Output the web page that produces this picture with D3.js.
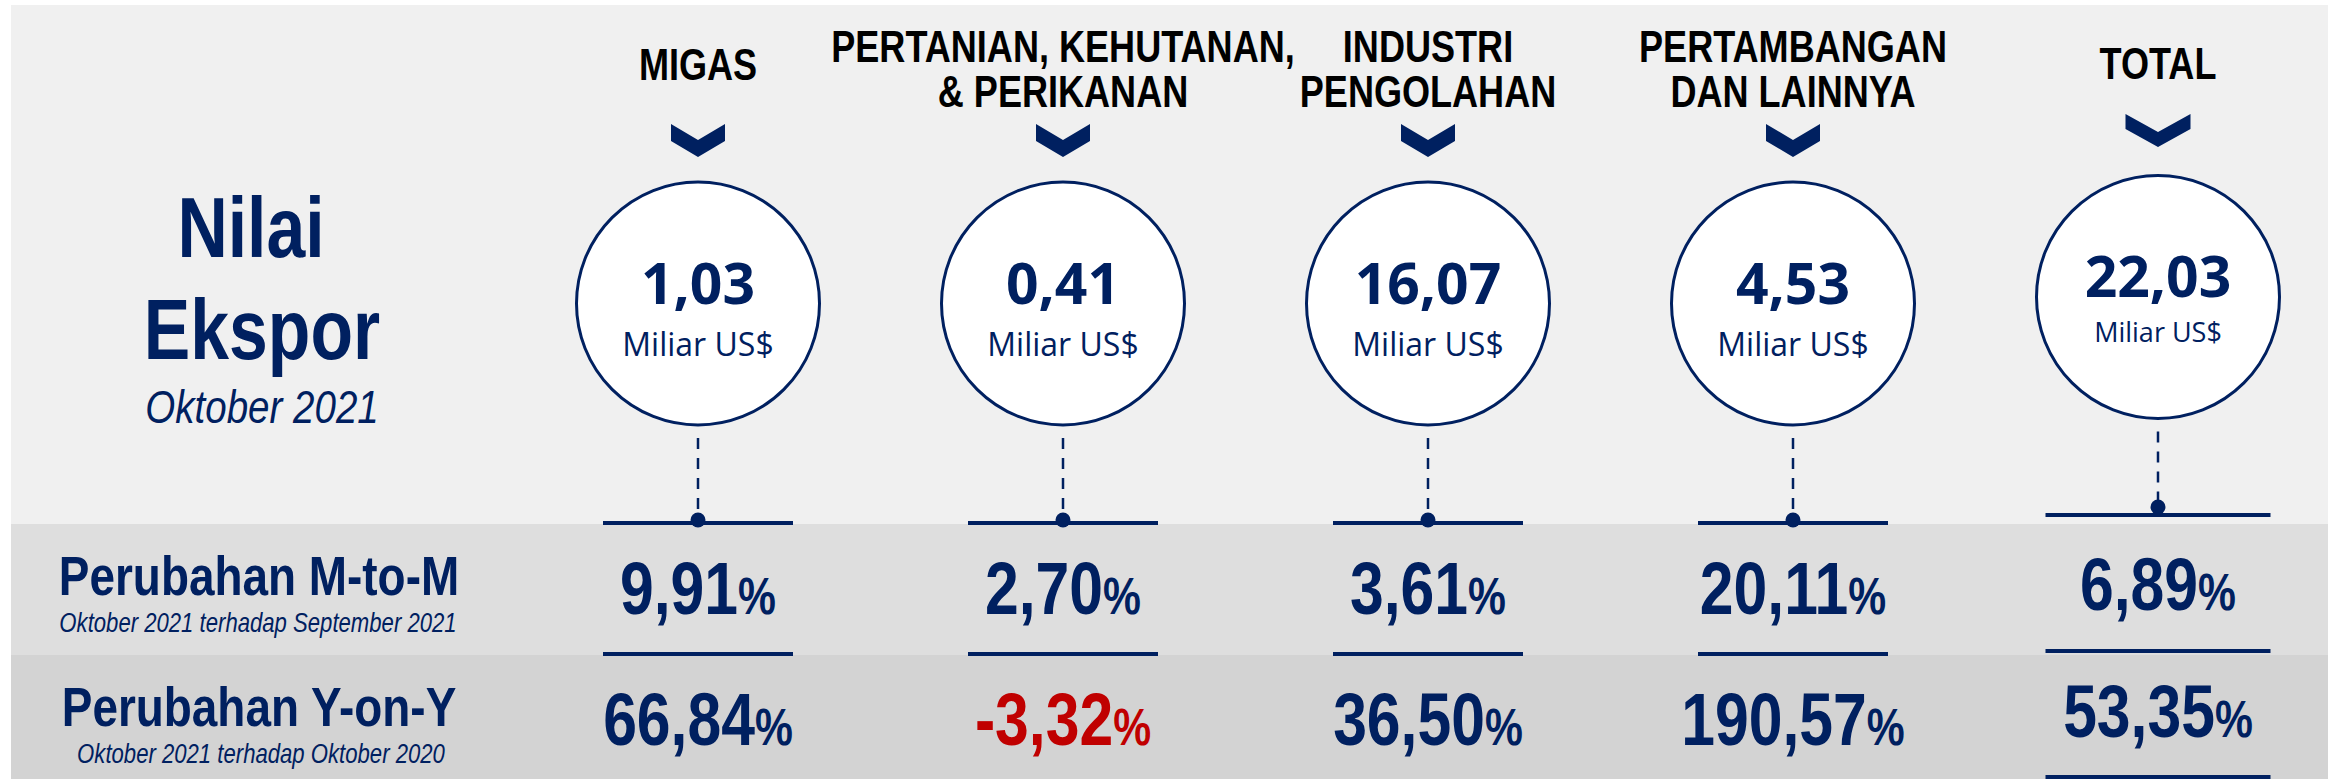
<!DOCTYPE html>
<html>
<head>
<meta charset="utf-8">
<script src="https://cdn.jsdelivr.net/npm/d3@7"></script>
<style>
  body { margin: 0; background: #fff; }
  svg { display: block; }
</style>
</head>
<body>
<div id="chart"></div>
<script>
// data
const categories = ['MIGAS', 'PERTANIAN', 'INDUSTRI', 'PERTAMBANGAN', 'TOTAL']
const headerLines = [
  ['MIGAS'],
  ['PERTANIAN, KEHUTANAN,', '& PERIKANAN'],
  ['INDUSTRI', 'PENGOLAHAN'],
  ['PERTAMBANGAN', 'DAN LAINNYA'],
  ['TOTAL']
]
const exportValues = [1.03, 0.41, 16.07, 4.53, 22.03]
const mtmChange = [9.91, 2.70, 3.61, 20.11, 6.89]
const yoyChange = [66.84, -3.32, 36.50, 190.57, 53.35]
const valueUnit = 'Miliar US$'
const titleLines = ['Nilai', 'Ekspor']
const periodLabel = 'Oktober 2021'
const rowTitles = ['Perubahan M-to-M', 'Perubahan Y-on-Y']
const rowSubtitles = ['Oktober 2021 terhadap September 2021', 'Oktober 2021 terhadap Oktober 2020']

const width = 2328
const height = 779
const navy = '#002060'
const red = '#c00000'

const fmt = d3.formatLocale({ decimal: ',', thousands: '.', grouping: [3], currency: ['', ''], minus: '-' }).format('.2f')

const svg = d3.select('#chart').append('svg')
  .attr('width', width)
  .attr('height', height)

// narrow font check: squeeze the regular one if the narrow face is missing
function measure (family) {
  const t = svg.append('text')
    .style('font-family', family)
    .style('font-weight', 'bold')
    .style('font-size', '100px')
    .text('PERUBAHAN EKSPOR')
  const w = t.node().getComputedTextLength()
  t.remove()
  return w
}
const narrowFamily = "'Liberation Sans Narrow', 'Liberation Sans', Arial, sans-serif"
const ratio = measure(narrowFamily) / measure("'Liberation Sans', Arial, sans-serif")
const squeeze = ratio > 0.9 ? 0.82 : 1

function narrowText (parent, x, y, str, opts) {
  const g = parent.append('g')
    .attr('transform', 'translate(' + x + ',' + y + ') scale(' + squeeze + ',1)')
  return g.append('text')
    .attr('text-anchor', 'middle')
    .style('font-family', narrowFamily)
    .style('font-weight', opts.weight || 'bold')
    .style('font-style', opts.italic ? 'italic' : 'normal')
    .style('font-size', opts.size + 'px')
    .attr('fill', opts.color || navy)
    .text(str)
}

// background bands
svg.append('rect').attr('x', 11).attr('y', 5).attr('width', width - 11).attr('height', 519).attr('fill', '#f0f0f0')
svg.append('rect').attr('x', 11).attr('y', 524).attr('width', width - 11).attr('height', 131).attr('fill', '#dedede')
svg.append('rect').attr('x', 11).attr('y', 655).attr('width', width - 11).attr('height', 124).attr('fill', '#d3d3d3')

// left titles
narrowText(svg, 251, 257, titleLines[0], { size: 85 })
narrowText(svg, 262, 359, titleLines[1], { size: 85 })
narrowText(svg, 262, 423, periodLabel, { size: 47, weight: 'normal', italic: true })

narrowText(svg, 259, 595, rowTitles[0], { size: 56 })
narrowText(svg, 258, 632, rowSubtitles[0], { size: 27, weight: 'normal', italic: true })
narrowText(svg, 259, 726, rowTitles[1], { size: 56 })
narrowText(svg, 261, 763, rowSubtitles[1], { size: 27, weight: 'normal', italic: true })

// columns
const x = d3.scalePoint()
  .domain(categories)
  .range([698, 2158])

const r = 121.5

categories.forEach((cat, i) => {
  const isTotal = cat === 'TOTAL'
  const cx = x(cat)
  const col = svg.append('g').classed('col', true)

  // header
  const lines = headerLines[i]
  const baselines = lines.length === 1 ? [isTotal ? 79 : 80] : [62, 107]
  lines.forEach((line, j) => {
    narrowText(col, cx, baselines[j], line, { size: 44, color: '#000' })
  })

  // chevron
  const top = isTotal ? 114 : 124
  const hw = isTotal ? 32.5 : 27
  const h = 33
  const t = isTotal ? 15 : 17
  col.append('path')
    .attr('d', d3.line()([
      [cx - hw, top], [cx, top + h - t], [cx + hw, top],
      [cx + hw, top + t], [cx, top + h], [cx - hw, top + t]
    ]) + 'Z')
    .attr('fill', navy)

  // circle with value
  const cy = isTotal ? 297 : 303.5
  col.append('circle')
    .attr('cx', cx).attr('cy', cy).attr('r', r)
    .attr('fill', '#fff')
    .attr('stroke', navy)
    .attr('stroke-width', 3)

  col.append('text')
    .attr('x', cx).attr('y', cy)
    .attr('text-anchor', 'middle')
    .style('font-family', "'Open Sans', sans-serif")
    .style('font-weight', 'bold')
    .style('font-size', '57px')
    .attr('fill', navy)
    .text(fmt(exportValues[i]))

  col.append('text')
    .attr('x', cx).attr('y', isTotal ? cy + 45 : cy + 52.5)
    .attr('text-anchor', 'middle')
    .style('font-family', "'Open Sans', sans-serif")
    .style('font-size', isTotal ? '27px' : '32px')
    .attr('fill', navy)
    .text(valueUnit)

  // dashed connector and dot
  const dotY = isTotal ? 507 : 520
  col.append('line')
    .attr('x1', cx).attr('x2', cx)
    .attr('y1', cy + r + 13).attr('y2', dotY)
    .attr('stroke', navy)
    .attr('stroke-width', 2.5)
    .attr('stroke-dasharray', '11,9')

  // rules
  const lw = isTotal ? 225 : 190
  const rules = isTotal ? [515, 651, 777] : [523, 654]
  rules.forEach(y => {
    col.append('rect')
      .attr('x', cx - lw / 2).attr('y', y - 2)
      .attr('width', lw).attr('height', 4)
      .attr('fill', navy)
  })

  col.append('circle')
    .attr('cx', cx).attr('cy', dotY).attr('r', 7.5)
    .attr('fill', navy)

  // change values
  const rows = [
    { v: mtmChange[i], y: isTotal ? 610 : 614 },
    { v: yoyChange[i], y: isTotal ? 737 : 745 }
  ]
  rows.forEach(row => {
    const txt = narrowText(col, cx, row.y, '', { size: 74, color: row.v < 0 ? red : navy })
    txt.append('tspan').text(fmt(row.v))
    txt.append('tspan').style('font-size', '52px').text('%')
  })
})
</script>
</body>
</html>
